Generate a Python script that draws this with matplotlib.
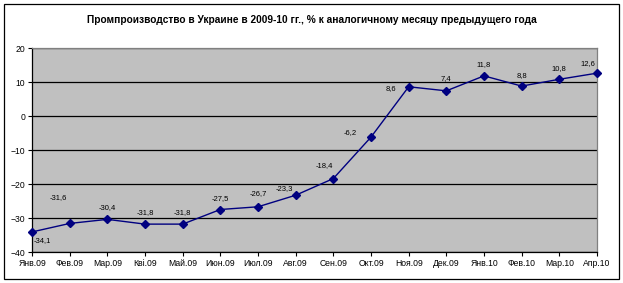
import numpy as np
import matplotlib.pyplot as plt
from matplotlib.patches import Rectangle

plt.rcParams['font.family'] = ['Liberation Sans', 'DejaVu Sans']

months = ['Янв.09', 'Фев.09', 'Мар.09', 'Кві.09', 'Май.09', 'Июн.09', 'Июл.09', 'Авг.09',
          'Сен.09', 'Окт.09', 'Ноя.09', 'Дек.09', 'Янв.10', 'Фев.10', 'Мар.10', 'Апр.10']
values = [-34.1, -31.6, -30.4, -31.8, -31.8, -27.5, -26.7, -23.3,
          -18.4, -6.2, 8.6, 7.4, 11.8, 8.8, 10.8, 12.6]

# label offsets in pixels (dx, dy) relative to each point
offsets = [(10, -9), (-11, 26), (0, 12), (0, 12), (0, 12), (0, 11), (0, 13), (-11, 7),
           (-9, 13), (-21, 5), (-18, -2), (0, 12), (0, 11), (0, 11), (0, 11), (-9, 10)]

fig = plt.figure(figsize=(6.23, 2.83), dpi=100)
ax = fig.add_axes([32 / 623, 1 - 252 / 283, 565 / 623, 204 / 283])
ax.set_facecolor('#C0C0C0')

x = np.arange(len(values))
ax.plot(x, values, color='#000080', lw=1, marker='D', ms=4.5, mfc='#000080', mec='#000080',
        clip_on=False, zorder=3)

for xi, v, (dx, dy) in zip(x, values, offsets):
    ax.annotate(f'{v:.1f}'.replace('.', ','), (xi, v), xytext=(dx * 0.72, dy * 0.72),
                textcoords='offset points', ha='center', va='center', fontsize=5.5)

ax.set_xlim(0, len(values) - 1)
ax.set_ylim(-40, 20)
ax.set_yticks(range(-40, 21, 10))
ax.set_xticks(x)
ax.set_xticklabels(months)
ax.tick_params(labelsize=6.2, length=3, width=0.8, pad=2, color='black')
ax.yaxis.grid(True, color='black', lw=0.9)
ax.set_axisbelow(True)

for s in ['top', 'right']:
    ax.spines[s].set_color('#808080')
    ax.spines[s].set_linewidth(0.9)
for s in ['left', 'bottom']:
    ax.spines[s].set_color('black')
    ax.spines[s].set_linewidth(0.9)

fig.text(0.5, 1 - 20 / 283, 'Промпроизводство в Украине в 2009-10 гг., % к аналогичному месяцу предыдущего года',
         ha='center', va='center', fontsize=7.3, fontweight='bold')

fig.patches.append(Rectangle((4 / 623, 4 / 283), 615 / 623, 275 / 283, transform=fig.transFigure,
                             fill=False, edgecolor='black', lw=0.9))

fig.savefig('out.png', dpi=100)
